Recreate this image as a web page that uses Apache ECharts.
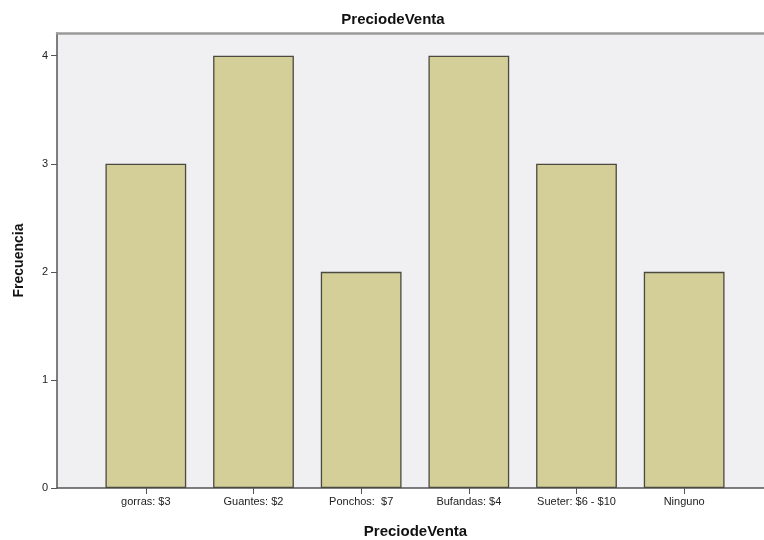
<!DOCTYPE html>
<html>
<head>
<meta charset="utf-8">
<script src="https://cdn.jsdelivr.net/npm/echarts@6/dist/echarts.min.js"></script>
<style>
  html, body { margin: 0; padding: 0; background: #ffffff; }
  #chart { width: 764px; height: 540px; }
</style>
</head>
<body>
<div id="chart"></div>
<script>
// Frequency of each selling-price category
const categories = ['gorras: $3', 'Guantes: $2', 'Ponchos:  $7', 'Bufandas: $4', 'Sueter: $6 - $10', 'Ninguno'];
const frequencies = [3, 4, 2, 4, 3, 2];
const yTicks = [0, 1, 2, 3, 4];

const chartTitle = 'PreciodeVenta';
const xTitle = 'PreciodeVenta';
const yTitle = 'Frecuencia';

const yMin = 0;
const yMax = 4.21;

const chart = echarts.init(document.getElementById('chart'), null, { renderer: 'canvas' });

const font = 'Liberation Sans, Arial, sans-serif';
const plotTop = 33;
const plotBottom = 540 - 488;

chart.setOption({
  animation: false,
  backgroundColor: '#ffffff',
  title: {
    text: chartTitle,
    left: 388,
    textAlign: 'center',
    top: 7,
    textStyle: { fontFamily: font, fontSize: 15, fontWeight: 'bold', color: '#111' }
  },
  grid: [
    // frame of the plotting area (extends past the right edge)
    { left: 57, top: plotTop, width: 717, bottom: plotBottom, show: true,
      backgroundColor: '#f0eff2', borderWidth: 0, outerBoundsMode: 'none', containLabel: false },
    // bars
    { left: 92, top: plotTop, width: 646, bottom: plotBottom, outerBoundsMode: 'none', containLabel: false }
  ],
  xAxis: [
    { gridIndex: 0, type: 'value', min: 0, max: 1, position: 'bottom',
      axisLine: { show: true, lineStyle: { color: '#555', width: 1.5 } },
      axisTick: { show: false }, axisLabel: { show: false }, splitLine: { show: false },
      name: xTitle, nameLocation: 'middle', nameGap: 36,
      nameTextStyle: { fontFamily: font, fontSize: 15, fontWeight: 'bold', color: '#111' } },
    { gridIndex: 0, type: 'value', min: 0, max: 1, position: 'top',
      axisLine: { show: true, lineStyle: { color: '#9a9a9a', width: 2.5 } },
      axisTick: { show: false }, axisLabel: { show: false }, splitLine: { show: false } },
    { gridIndex: 1, type: 'category', data: categories, position: 'bottom',
      axisLine: { show: false },
      axisTick: { show: true, alignWithLabel: true, length: 6, lineStyle: { color: '#555' } },
      axisLabel: { fontFamily: font, fontSize: 11, color: '#222', margin: 8, interval: 0 } }
  ],
  yAxis: [
    { gridIndex: 0, type: 'value', min: yMin, max: yMax,
      axisLine: { show: true, lineStyle: { color: '#555', width: 1.5 } },
      axisTick: { show: true, length: 6, customValues: yTicks, lineStyle: { color: '#555' } },
      axisLabel: { fontFamily: font, fontSize: 11, color: '#222', margin: 9, customValues: yTicks },
      splitLine: { show: false },
      name: yTitle, nameLocation: 'middle', nameGap: 31, nameRotate: 90,
      nameTextStyle: { fontFamily: font, fontSize: 14, fontWeight: 'bold', color: '#111' } },
    { gridIndex: 1, type: 'value', min: yMin, max: yMax, show: false }
  ],
  series: [{
    type: 'bar',
    xAxisIndex: 2,
    yAxisIndex: 1,
    data: frequencies,
    barCategoryGap: '25%',
    itemStyle: { color: '#d4cf98', borderColor: '#4a4a40', borderWidth: 1.3 }
  }]
});
</script>
</body>
</html>
